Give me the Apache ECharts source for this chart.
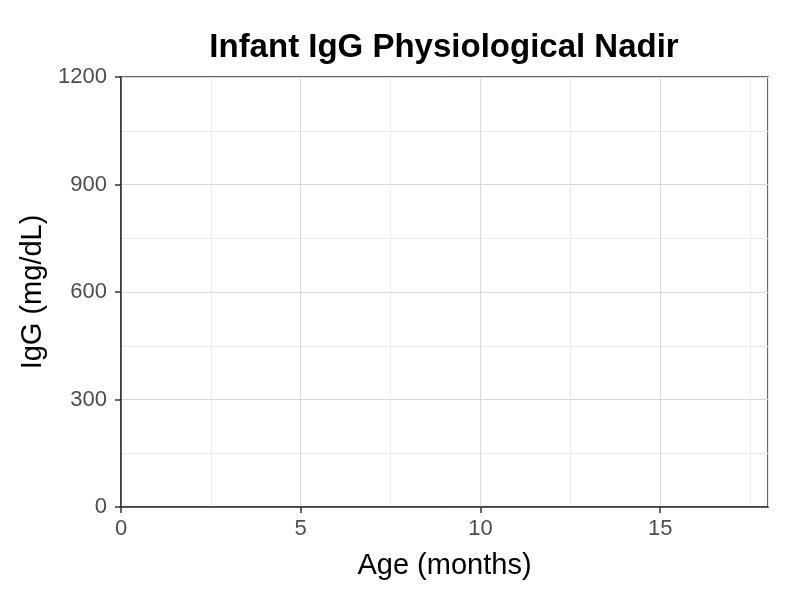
<!DOCTYPE html>
<html>
<head>
<meta charset="utf-8">
<script src="https://cdn.jsdelivr.net/npm/echarts@6/dist/echarts.min.js"></script>
<style>
  html, body { margin: 0; padding: 0; background: #fff; }
  #main { width: 800px; height: 600px; }
</style>
</head>
<body>
<div id="main"></div>
<script>
// axis ranges and ticks
var xRange = [0, 18];
var xTicks = [0, 5, 10, 15];
var yRange = [0, 1200];
var yTicks = [0, 300, 600, 900, 1200];
// the reference panel has no marks in it
var ageMonths = [];
var iggValues = [];

var seriesData = ageMonths.map(function (m, i) { return [m, iggValues[i]]; });

var chart = echarts.init(document.getElementById('main'));

var option = {
  backgroundColor: '#ffffff',
  animation: false,
  title: {
    text: 'Infant IgG Physiological Nadir',
    left: 439,
    top: 26,
    textAlign: 'center',
    textStyle: {
      fontFamily: 'Liberation Sans',
      fontSize: 33,
      fontWeight: 'bold',
      color: '#000'
    }
  },
  grid: {
    left: 121,
    right: 32,
    top: 77,
    bottom: 93,
    outerBoundsMode: 'none',
    containLabel: false,
    show: true,
    borderColor: '#333',
    borderWidth: 1.5,
    backgroundColor: '#fff'
  },
  xAxis: [{
    // minor grid lines every 2.5 months
    type: 'value',
    position: 'bottom',
    min: xRange[0],
    max: xRange[1],
    interval: 2.5,
    axisLine: { show: false },
    axisTick: { show: false },
    axisLabel: { show: false },
    splitLine: { show: true, lineStyle: { color: '#ebebeb', width: 1 } }
  }, {
    type: 'value',
    position: 'bottom',
    min: xRange[0],
    max: xRange[1],
    interval: 5,
    name: 'Age (months)',
    nameLocation: 'middle',
    nameGap: 44,
    nameTextStyle: { fontFamily: 'Liberation Sans', fontSize: 29, color: '#000' },
    axisLine: { show: true, onZero: false, lineStyle: { color: '#333', width: 1.5 } },
    axisTick: { show: true, customValues: xTicks, length: 6, lineStyle: { color: '#333', width: 1.5 } },
    axisLabel: {
      customValues: xTicks,
      fontFamily: 'Liberation Sans',
      fontSize: 22,
      color: '#4d4d4d',
      margin: 11
    },
    splitLine: { show: true, lineStyle: { color: '#d9d9d9', width: 1 } }
  }],
  yAxis: {
    type: 'value',
    min: yRange[0],
    max: yRange[1],
    interval: 300,
    name: 'IgG (mg/dL)',
    nameLocation: 'middle',
    nameGap: 69,
    nameTextStyle: { fontFamily: 'Liberation Sans', fontSize: 29, color: '#000' },
    axisLine: { show: true, onZero: false, lineStyle: { color: '#333', width: 1.5 } },
    axisTick: { show: true, customValues: yTicks, length: 6, lineStyle: { color: '#333', width: 1.5 } },
    axisLabel: {
      customValues: yTicks,
      formatter: function (v) { return String(v); },
      fontFamily: 'Liberation Sans',
      fontSize: 22,
      color: '#4d4d4d',
      margin: 14
    },
    splitLine: { show: true, lineStyle: { color: '#d9d9d9', width: 1 } },
    minorTick: { show: false, splitNumber: 2 },
    minorSplitLine: { show: true, lineStyle: { color: '#ebebeb', width: 1 } }
  },
  series: [{
    type: 'line',
    xAxisIndex: 1,
    data: seriesData,
    showSymbol: false
  }]
};

chart.setOption(option);
</script>
</body>
</html>
